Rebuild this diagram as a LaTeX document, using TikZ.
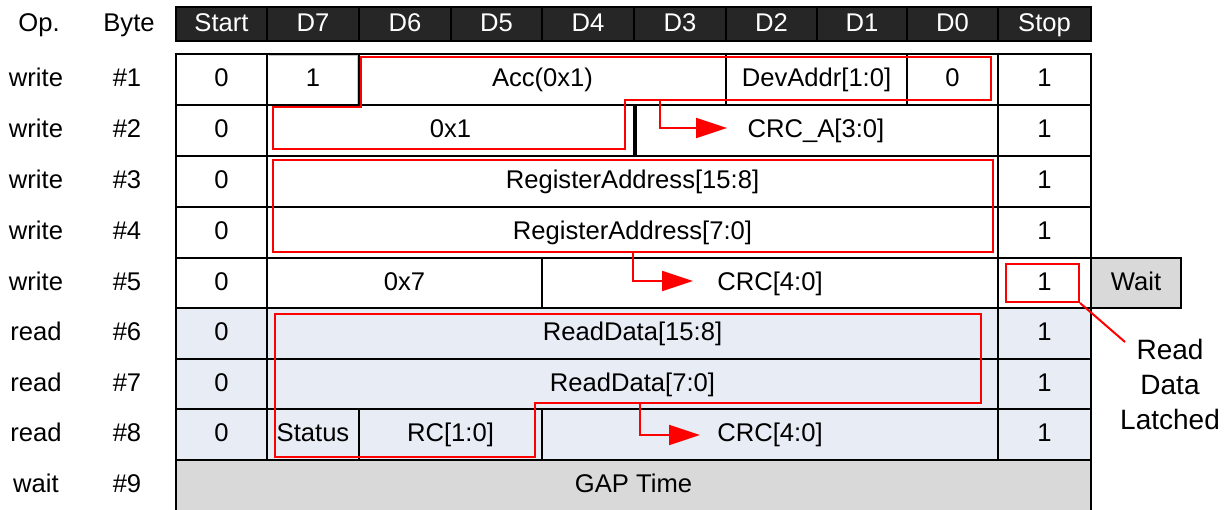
\documentclass[tikz,border=0pt]{standalone}
\usepackage{fontspec}
\setmainfont{Liberation Sans}
\usetikzlibrary{arrows.meta}
\definecolor{hdr}{HTML}{262626}
\definecolor{rdfill}{HTML}{E8ECF4}
\definecolor{gapfill}{HTML}{D9D9D9}
\newcommand\cellnode[7]{%
  \node[cellbox,#6,minimum width={(#3-#2)*0.5pt},minimum height={(#5-#4)*0.5pt}] (#1) at ({(#2+#3)/2},{(#4+#5)/2}) {#7};}
\begin{document}
\begin{tikzpicture}[x=0.5pt,y=-0.5pt,
  txt/.style={font=\fontsize{12.8}{15}\selectfont, text height=9pt, text depth=2pt},
  cellbox/.style={txt, draw=black, line width=1.2pt, inner sep=0pt, text=black},
  hdrbox/.style={fill=hdr, text=white},
  rdbox/.style={fill=rdfill},
  gapbox/.style={fill=gapfill},
  lbl/.style={txt, inner sep=0pt},
  redpath/.style={draw=red, line width=1pt},
  redarrow/.style={redpath, -{Triangle[length=15.5pt,width=10pt]}}]
\useasboundingbox (0,0) rectangle (1229,509);
\clip (0,0) rectangle (1229,509);

% left labels
\node[lbl] (opH) at (39,24) {Op.};
\node[lbl] (byteH) at (129,24) {Byte};
\foreach \i/\op/\y in {1/write/79.5, 2/write/130.5, 3/write/181.5, 4/write/232.5, 5/write/283,
                       6/read/333.5, 7/read/384, 8/read/434.5, 9/wait/485.5} {
  \node[lbl] (op\i) at (36,\y) {\op};
  \node[lbl] (byte\i) at (127,\y) {\#\i};
}

% header
\foreach \n/\a/\b/\t in {0/176/267/Start, 1/267/359/D7, 2/359/451/D6, 3/451/542/D5, 4/542/634/D4,
                         5/634/726/D3, 6/726/817/D2, 7/817/907/D1, 8/907/998/D0, 9/998/1091/Stop} {
  \cellnode{h\n}{\a}{\b}{7}{41}{hdrbox}{\t}
}

% row 1
\cellnode{r1a}{176}{267}{54}{105}{}{0}
\cellnode{r1c}{359}{726}{54}{105}{}{Acc(0x1)}
\cellnode{r1d}{726}{907}{54}{105}{}{DevAddr[1:0]}
\cellnode{r1e}{907}{998}{54}{105}{}{0}
\cellnode{r1f}{998}{1091}{54}{105}{}{1}
\cellnode{r1b}{267}{359}{54}{105}{}{1}
\draw[gray!45, line width=0.6pt] ([xshift=1.5pt,yshift=-1.2pt]r1b.north west) -- ([xshift=-1.2pt,yshift=-1.2pt]r1b.north east) -- ([xshift=-1.2pt,yshift=1.2pt]r1b.south east);

% row 2
\cellnode{r2a}{176}{267}{105}{156}{}{0}
\cellnode{r2b}{267}{634}{105}{156}{}{0x1}
\cellnode{r2c}{634}{998}{105}{156}{}{CRC\_A[3:0]}
\cellnode{r2d}{998}{1091}{105}{156}{}{1}
\draw[black, line width=2.2pt] (r2b.north east) -- (r2b.south east);

% row 3, 4
\cellnode{r3a}{176}{267}{156}{207}{}{0}
\cellnode{r3b}{267}{998}{156}{207}{}{RegisterAddress[15:8]}
\cellnode{r3c}{998}{1091}{156}{207}{}{1}
\cellnode{r4a}{176}{267}{207}{258}{}{0}
\cellnode{r4b}{267}{998}{207}{258}{}{RegisterAddress[7:0]}
\cellnode{r4c}{998}{1091}{207}{258}{}{1}

% row 5
\cellnode{r5a}{176}{267}{258}{308}{}{0}
\cellnode{r5b}{267}{542}{258}{308}{}{0x7}
\cellnode{r5c}{542}{998}{258}{308}{}{CRC[4:0]}
\cellnode{r5d}{998}{1091}{258}{308}{}{1}
\cellnode{wait}{1091}{1181}{258}{308}{gapbox}{Wait}

% rows 6-8
\cellnode{r6a}{176}{267}{308}{359}{rdbox}{0}
\cellnode{r6b}{267}{998}{308}{359}{rdbox}{ReadData[15:8]}
\cellnode{r6c}{998}{1091}{308}{359}{rdbox}{1}
\cellnode{r7a}{176}{267}{359}{409}{rdbox}{0}
\cellnode{r7b}{267}{998}{359}{409}{rdbox}{ReadData[7:0]}
\cellnode{r7c}{998}{1091}{359}{409}{rdbox}{1}
\cellnode{r8a}{176}{267}{409}{460}{rdbox}{0}
\cellnode{r8b}{267}{359}{409}{460}{rdbox}{Status}
\cellnode{r8c}{359}{542}{409}{460}{rdbox}{RC[1:0]}
\cellnode{r8d}{542}{998}{409}{460}{rdbox}{CRC[4:0]}
\cellnode{r8e}{998}{1091}{409}{460}{rdbox}{1}

% row 9
\cellnode{r9}{176}{1091}{460}{525}{gapbox}{}
\node[lbl] (gap) at (633.5,485.5) {GAP Time};

% red outlines
\draw[redpath] (361,57) -- (991,57) -- (991,100) -- (625,100) -- (625,149) -- (273,149) -- (273,107) -- (361,107) -- cycle;
\coordinate (aAs) at (660,100);
\coordinate (aAe) at (727,128);
\draw[redarrow] (aAs) |- (aAe);

\draw[redpath] (273,160) rectangle (993,252);
\coordinate (aBs) at (633,252);
\coordinate (aBe) at (693,281);
\draw[redarrow] (aBs) |- (aBe);

\draw[redpath] (275,314) -- (981,314) -- (981,403) -- (535,403) -- (535,457) -- (275,457) -- cycle;
\coordinate (aDs) at (640,403);
\coordinate (aDe) at (700,435);
\draw[redarrow] (aDs) |- (aDe);

\node[redpath, inner sep=0pt, minimum width=36.5pt, minimum height=19pt] (latchbox) at (1042.5,283) {};
\node[font=\fontsize{14}{17.5}\selectfont, align=center, inner sep=0pt] (latched) at (1170,384) {Read\\Data\\Latched};
\coordinate (callend) at (1125,342);
\draw[redpath] (latchbox.south east) -- (callend);
\end{tikzpicture}
\end{document}
